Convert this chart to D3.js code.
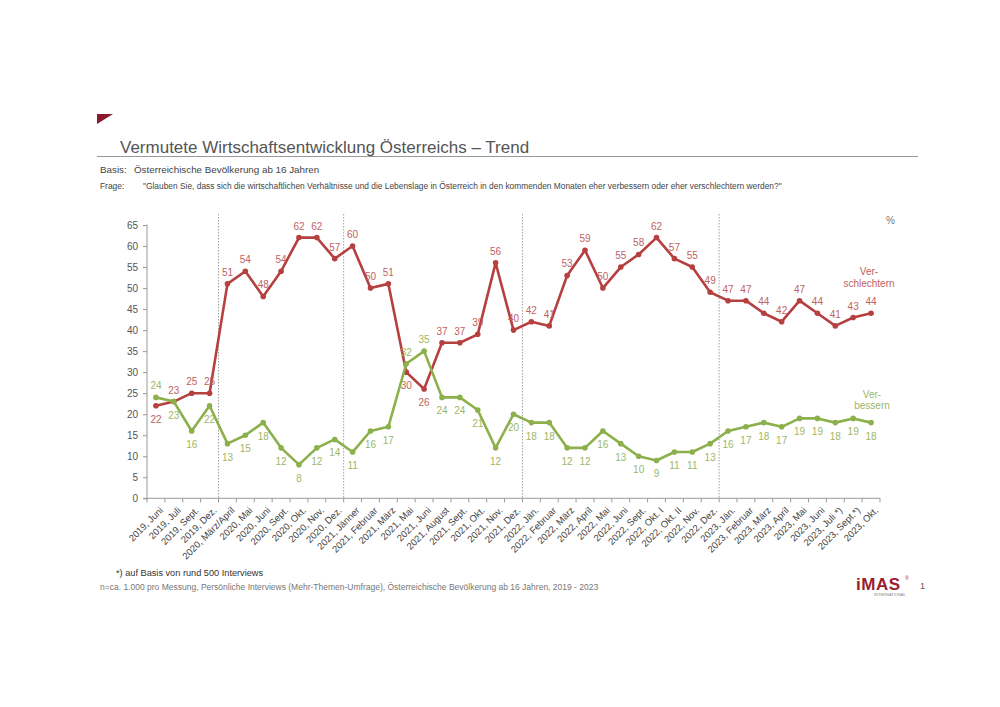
<!DOCTYPE html>
<html><head><meta charset="utf-8">
<script src="https://cdn.jsdelivr.net/npm/d3@7"></script>
<style>
html,body{margin:0;padding:0;background:#fff;}
svg{display:block;font-family:Arial,"Liberation Sans",sans-serif;}
</style></head>
<body>
<svg id="chart" width="1000" height="707"></svg>
<script>
const categories = ["2019, Juni","2019, Juli","2019, Sept.","2019, Dez.","2020, März/April","2020, Mai","2020, Juni","2020, Sept.","2020, Okt.","2020, Nov.","2020, Dez.","2021, Jänner","2021, Februar","2021, März","2021, Mai","2021, Juni","2021, August","2021, Sept.","2021, Okt.","2021, Nov.","2021, Dez.","2022, Jän.","2022, Februar","2022, März","2022, April","2022, Mai","2022, Juni","2022, Sept.","2022, Okt. I","2022, Okt. II","2022, Nov.","2022, Dez.","2023, Jän.","2023, Februar","2023, März","2023, April","2023, Mai","2023, Juni","2023, Juli *)","2023, Sept.*)","2023, Okt."];
const verschlechtern = [22,23,25,25,51,54,48,54,62,62,57,60,50,51,30,26,37,37,39,56,40,42,41,53,59,50,55,58,62,57,55,49,47,47,44,42,47,44,41,43,44];
const verbessern = [24,23,16,22,13,15,18,12,8,12,14,11,16,17,32,35,24,24,21,12,20,18,18,12,12,16,13,10,9,11,11,13,16,17,18,17,19,19,18,19,18];
const yTicks = [0,5,10,15,20,25,30,35,40,45,50,55,60,65];
const yearBreaks = ["2020, März/April","2021, Jänner","2022, Jän.","2023, Jän."];
// label placement: indices where red label goes below / green label goes above
const redBelow = [0,14,15];
const greenAbove = [0,14,15];

const svg = d3.select("#chart");
const RED = "#b5403f", GREEN = "#8cb04b";
const RED_T = "#c0625f", GREEN_T = "#9bb866";

// header
svg.append("path").attr("d","M97,114 L113,114 L97,124 Z").attr("fill","#8b1a2e");
svg.append("text").attr("x",120).attr("y",153).attr("font-size",17).attr("fill","#555").text("Vermutete Wirtschaftsentwicklung Österreichs – Trend");
svg.append("line").attr("x1",97).attr("x2",918).attr("y1",156.5).attr("y2",156.5).attr("stroke","#999").attr("stroke-width",1.2);
svg.append("text").attr("x",100).attr("y",173).attr("font-size",9.8).attr("fill","#444").text("Basis:");
svg.append("text").attr("x",134).attr("y",173).attr("font-size",9.8).attr("fill","#444").text("Österreichische Bevölkerung ab 16 Jahren");
svg.append("text").attr("x",100).attr("y",189).attr("font-size",8.4).attr("fill","#444").text("Frage:");
svg.append("text").attr("x",143).attr("y",189).attr("font-size",8.4).attr("fill","#444")
  .text("\"Glauben Sie, dass sich die wirtschaftlichen Verhältnisse und die Lebenslage in Österreich in den kommenden Monaten eher verbessern oder eher verschlechtern werden?\"");

const x = d3.scaleBand().domain(categories).range([147,880]).paddingInner(0).paddingOuter(0);
const y = d3.scaleLinear().domain([0,65]).range([498.3,225]);
const cx = d => x(d) + x.bandwidth()/2;

// y axis
const yAxis = d3.axisLeft(y).tickValues(yTicks).tickSize(4).tickPadding(5);
const gy = svg.append("g").attr("transform","translate(147,0)").call(yAxis);
gy.select(".domain").attr("stroke","#999").attr("d","M-4,"+y(0)+"H0V"+(y(65)-0.5));
gy.selectAll(".tick line").attr("stroke","#999");
gy.selectAll("text").attr("font-size",10).attr("fill","#555").attr("font-family","Arial, 'Liberation Sans', sans-serif");

// x axis with tick marks at band boundaries
const gx = svg.append("g").attr("transform","translate(0,"+y(0)+")");
gx.append("line").attr("x1",147).attr("x2",880).attr("stroke","#999");
const bounds = categories.map(c => x(c)).concat([x.range()[1]]);
gx.selectAll("line.tk").data(bounds).join("line").attr("class","tk")
  .attr("x1",d=>d).attr("x2",d=>d).attr("y1",0).attr("y2",4).attr("stroke","#999");
gx.selectAll("text.cat").data(categories).join("text").attr("class","cat")
  .attr("transform",d=>"translate("+(cx(d)+3)+",8) rotate(-45)")
  .attr("text-anchor","end").attr("dy","0.7em").attr("font-size",9.5).attr("fill","#444").text(d=>d);

// dotted year separators
svg.selectAll("line.sep").data(yearBreaks).join("line").attr("class","sep")
  .attr("x1",d=>x(d)).attr("x2",d=>x(d)).attr("y1",214).attr("y2",y(0))
  .attr("stroke","#888").attr("stroke-width",0.8).attr("stroke-dasharray","1.5,1.5");

// percent sign
svg.append("text").attr("x",886).attr("y",224).attr("font-size",10).attr("fill","#777").text("%");

function drawSeries(vals, color, tcolor, flip, isRed){
  const data = categories.map((c,i)=>({c, v: vals[i], i}));
  const line = d3.line().x(d=>cx(d.c)).y(d=>y(d.v));
  svg.append("path").datum(data).attr("d",line).attr("fill","none").attr("stroke",color).attr("stroke-width",2.6).attr("stroke-linejoin","round");
  svg.selectAll(null).data(data).join("circle").attr("cx",d=>cx(d.c)).attr("cy",d=>y(d.v)).attr("r",2.8).attr("fill",color);
  svg.selectAll(null).data(data).join("text")
    .attr("x",d=>cx(d.c))
    .attr("y",d=>{
      const above = isRed ? !flip.includes(d.i) : flip.includes(d.i);
      return above ? y(d.v)-8 : y(d.v)+17;
    })
    .attr("text-anchor","middle").attr("font-size",10).attr("fill",tcolor).text(d=>d.v);
}
drawSeries(verschlechtern, RED, RED_T, redBelow, true);
drawSeries(verbessern, GREEN, GREEN_T, greenAbove, false);

// series labels
const sl = svg.append("g").attr("font-size",10).attr("text-anchor","middle");
sl.append("text").attr("x",869).attr("y",275).attr("fill",RED_T).text("Ver-");
sl.append("text").attr("x",869).attr("y",287).attr("fill",RED_T).text("schlechtern");
sl.append("text").attr("x",872).attr("y",398).attr("fill",GREEN_T).text("Ver-");
sl.append("text").attr("x",872).attr("y",409).attr("fill",GREEN_T).text("bessern");

// footer
svg.append("text").attr("x",116).attr("y",576).attr("font-size",9.2).attr("fill","#333").text("*) auf Basis von rund 500 Interviews");
svg.append("text").attr("x",100).attr("y",590).attr("font-size",8.5).attr("fill","#777")
  .text("n=ca. 1.000 pro Messung, Persönliche Interviews (Mehr-Themen-Umfrage), Österreichische Bevölkerung ab 16 Jahren, 2019 - 2023");

// logo
const lg = svg.append("g");
lg.append("text").attr("x",856).attr("y",590).attr("font-size",17).attr("font-weight","bold").attr("fill","#9b1c2e").attr("letter-spacing",0.5).text("iMAS");
lg.append("text").attr("x",905).attr("y",580).attr("font-size",5).attr("fill","#9b1c2e").text("®");
lg.append("text").attr("x",874).attr("y",596).attr("font-size",4).attr("fill","#888").text("INTERNATIONAL");
svg.append("text").attr("x",920).attr("y",589).attr("font-size",9).attr("fill","#555").text("1");
</script>
</body></html>
